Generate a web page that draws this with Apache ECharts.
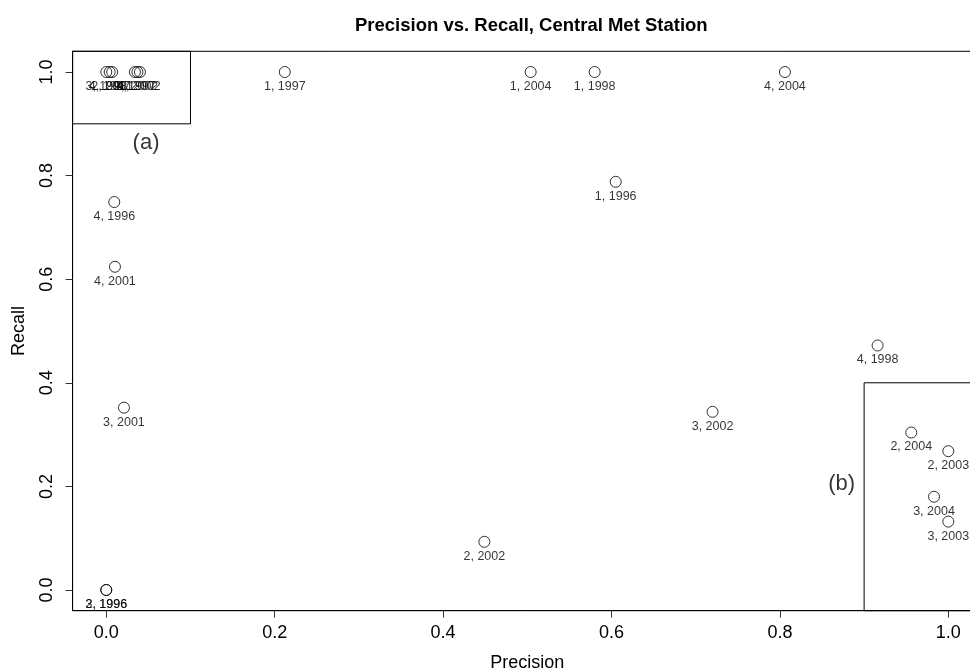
<!DOCTYPE html>
<html>
<head>
<meta charset="utf-8">
<title>Precision vs. Recall, Central Met Station</title>
<script src="https://cdn.jsdelivr.net/npm/echarts@6/dist/echarts.min.js"></script>
<style>
  html, body { margin: 0; padding: 0; background: #fff; }
  #chart { width: 970px; height: 671px; }
</style>
</head>
<body>
<div id="chart"></div>
<script>
// point labels are "category, year"
let pointLabels = [
  '3, 1998', '4, 1997', '2, 2001', '2, 1997', '4, 2002', '1, 2002',
  '1, 1997', '1, 2004', '1, 1998', '4, 2004', '1, 1996',
  '4, 1996', '4, 2001', '3, 2001', '3, 2002', '4, 1998', '2, 2002',
  '2, 2004', '2, 2003', '3, 2004', '3, 2003', '2, 1996', '3, 1996'
]
let precision = [
  0.000, 0.004, 0.007, 0.034, 0.037, 0.040,
  0.212, 0.504, 0.580, 0.806, 0.605,
  0.0095, 0.0103, 0.021, 0.720, 0.916, 0.449,
  0.956, 1.000, 0.983, 1.000, 0.000, 0.000
]
let recall = [
  1.000, 1.000, 1.000, 1.000, 1.000, 1.000,
  1.000, 1.000, 1.000, 1.000, 0.788,
  0.749, 0.624, 0.352, 0.344, 0.472, 0.093,
  0.304, 0.268, 0.180, 0.132, 0.000, 0.000
]
let tickValues = [0, 0.2, 0.4, 0.6, 0.8, 1.0]

// zoom boxes (a) and (b): [xFrom, yFrom, xTo, yTo]
let boxNames = ['(a)', '(b)']
let boxes = [
  [-0.04, 0.9, 0.1, 1.04],
  [0.9, -0.04, 1.04, 0.4]
]
let boxNameX = [0.0472, 0.8734]
let boxNameY = [0.863, 0.205]

let font = '"Liberation Sans", Arial, Helvetica, sans-serif'

function axisOf (name, isY) {
  return {
    type: 'value',
    min: -0.04,
    max: 1.04,
    name: name,
    nameLocation: 'middle',
    nameGap: isY ? 45 : 43,
    nameRotate: isY ? 90 : 0,
    nameTextStyle: { fontFamily: font, fontSize: 18, color: '#000' },
    axisLine: { show: true, onZero: false, lineStyle: { color: '#000', width: 1 } },
    splitLine: { show: false },
    axisTick: {
      show: true,
      length: 7,
      customValues: tickValues,
      lineStyle: { color: '#333', width: 1 }
    },
    axisLabel: {
      customValues: tickValues,
      rotate: isY ? 90 : 0,
      margin: isY ? 17 : 13,
      fontFamily: font,
      fontSize: 18,
      color: '#000',
      formatter: v => v.toFixed(1)
    }
  }
}

let points = precision.map((p, i) => ({ value: [p, recall[i]], name: pointLabels[i] }))
let boxText = boxNames.map((n, i) => ({ value: [boxNameX[i], boxNameY[i]], name: n }))
let boxAreas = boxes.map(b => [
  { coord: [b[0], b[1]] },
  { coord: [b[2], b[3]] }
])

let chart = echarts.init(document.getElementById('chart'))
chart.setOption({
  animation: false,
  backgroundColor: '#fff',
  title: {
    text: 'Precision vs. Recall, Central Met Station',
    left: 350,
    top: 11,
    textStyle: { fontFamily: font, fontSize: 18.5, fontWeight: 'bold', color: '#000' }
  },
  grid: {
    left: 72.6,
    top: 51.3,
    width: 909.4,
    height: 559.4,
    outerBoundsMode: 'none',
    containLabel: false,
    show: true,
    borderColor: '#000',
    borderWidth: 1,
    backgroundColor: 'transparent'
  },
  xAxis: axisOf('Precision', false),
  yAxis: axisOf('Recall', true),
  series: [
    {
      type: 'scatter',
      symbol: 'circle',
      symbolSize: 11,
      silent: true,
      data: points,
      itemStyle: { color: 'rgba(0,0,0,0)', borderColor: '#000', borderWidth: 1 },
      label: {
        show: true,
        position: 'bottom',
        distance: 2,
        formatter: '{b}',
        fontFamily: font,
        fontSize: 12.5,
        color: '#000'
      },
      emphasis: { disabled: true },
      markArea: {
        silent: true,
        itemStyle: { color: 'rgba(0,0,0,0)', borderColor: '#000', borderWidth: 1 },
        data: boxAreas
      }
    },
    {
      type: 'scatter',
      symbolSize: 0,
      silent: true,
      data: boxText,
      label: {
        show: true,
        position: 'inside',
        formatter: '{b}',
        fontFamily: font,
        fontSize: 22,
        color: '#000'
      },
      emphasis: { disabled: true }
    }
  ]
})
</script>
</body>
</html>
